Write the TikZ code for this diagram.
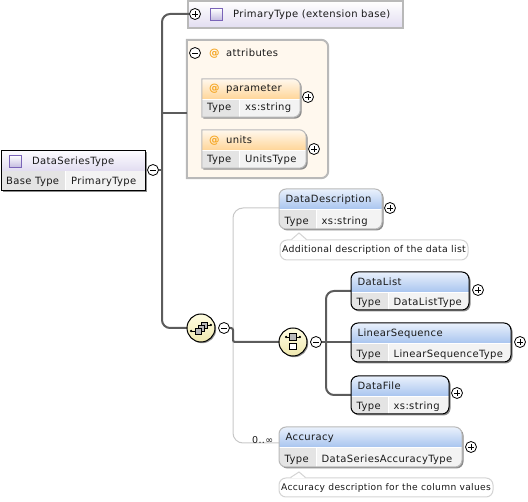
\documentclass[tikz,border=0pt]{standalone}
\usepackage{fontspec}
\setmainfont{DejaVu Sans}[LetterSpace=3.5]
\usepackage{xcolor}
\usetikzlibrary{arrows.meta,positioning,calc,shadows}
\definecolor{ink}{HTML}{000000}
\definecolor{txtgray}{HTML}{1A1A1A}
\definecolor{trunkgray}{HTML}{5C5C5C}
\definecolor{thingray}{HTML}{C8C8C8}
\definecolor{edgegray}{HTML}{B9B9B9}
\definecolor{shadowgray}{HTML}{8C8C8C}
\definecolor{celldark}{HTML}{E4E4E4}
\definecolor{celllight}{HTML}{F3F3F3}
\definecolor{blutop}{HTML}{EAF1FC}
\definecolor{blubot}{HTML}{A9C5EF}
\definecolor{orgtop}{HTML}{FFF8EE}
\definecolor{orgbot}{HTML}{FFD699}
\definecolor{lavtop}{HTML}{FDFCFF}
\definecolor{lavbot}{HTML}{E2DDF1}
\definecolor{attrfill}{HTML}{FFF8EE}
\definecolor{attrsign}{HTML}{F5A623}
\definecolor{squareedge}{HTML}{7A64B8}
\definecolor{squarefill}{HTML}{C2BADF}
\definecolor{icontop}{HTML}{FFFDE2}
\definecolor{iconyellow}{HTML}{EFE8AE}
\definecolor{notegray}{HTML}{D4D4D4}
\tikzset{
  cells/.style 2 args={path picture={
    \begin{scope}[sharp corners]
    \shade[top color=#1top,bottom color=#1bot]
      (path picture bounding box.north west) rectangle ([yshift=-20pt]path picture bounding box.north east);
    \fill[celldark] ([yshift=-21pt]path picture bounding box.north west) rectangle ([xshift=#2pt]path picture bounding box.south west);
    \fill[celllight] ([xshift=#2pt+1pt,yshift=-21pt]path picture bounding box.north west) rectangle (path picture bounding box.south east);
    \end{scope}
  }},
  boxshadow/.style={drop shadow={shadow xshift=1.5pt,shadow yshift=-1.5pt,fill=shadowgray,opacity=1}},
  reqelem/.style={draw=ink,fill=white,line width=1pt,rounded corners=7pt,inner sep=0pt,boxshadow},
  optelem/.style={draw=edgegray,fill=white,line width=1pt,rounded corners=7pt,inner sep=0pt,boxshadow},
  rootelem/.style={draw=ink,fill=white,line width=1pt,inner sep=0pt,boxshadow},
  attrelem/.style={draw=edgegray,fill=white,line width=1pt,boxshadow},
  basebox/.style={draw=edgegray,line width=2pt,top color=white,bottom color=lavbot,inner sep=0pt},
  attrgroup/.style={draw=edgegray,fill=attrfill,line width=2pt},
  lbl/.style={anchor=base west,inner sep=0pt,font=\fontsize{10}{11}\selectfont,text=txtgray},
  atsign/.style={anchor=base west,inner sep=0pt,font=\fontsize{10.5}{11}\bfseries\selectfont,text=attrsign},
  square/.style={draw=squareedge,line width=1pt,top color=white,bottom color=squarefill,
    minimum size=12pt,inner sep=0pt},
  btn/.style={circle,draw=ink,fill=white,line width=0.8pt,minimum size=11pt,inner sep=0pt},
  plusbtn/.style={btn,path picture={
    \draw[line width=0.7pt] ([xshift=-3pt]path picture bounding box.center) -- ([xshift=3pt]path picture bounding box.center);
    \draw[line width=0.7pt] ([yshift=-3pt]path picture bounding box.center) -- ([yshift=3pt]path picture bounding box.center);
  }},
  minusbtn/.style={btn,path picture={
    \draw[line width=0.7pt] ([xshift=-3pt]path picture bounding box.center) -- ([xshift=3pt]path picture bounding box.center);
  }},
  compicon/.style={circle,draw=ink,line width=1pt,minimum size=28pt,inner sep=0pt,
    top color=icontop,bottom color=iconyellow,
    drop shadow={shadow xshift=1.2pt,shadow yshift=-1.2pt,fill=shadowgray,opacity=1}},
  minisquare/.style={draw=ink,line width=0.8pt,minimum size=6.5pt,inner sep=0pt},
  stub/.style={-{Circle[length=2.2pt]},line width=0.8pt},
  trunk/.style={draw=trunkgray,line width=2pt},
  thinline/.style={draw=thingray,line width=1pt},
  note/.style={draw=notegray,fill=white,line width=1pt,rounded corners=7pt,inner sep=0pt,
    font=\fontsize{9.35}{11}\selectfont,text=txtgray}
}
\newcommand{\rightcorners}[1]{(#1.north west) [rounded corners=7pt] -- (#1.north east) -- (#1.south east) [sharp corners] -- (#1.south west) -- cycle}
\newcommand{\elemtexts}[4]{%
  \node[lbl] (#1name) at ([shift={(7,14)}]#1.north west) {#2};
  \node[lbl] (#1key) at ([shift={(6,-5)}]#1.south west) {#3};
  \node[lbl] (#1val) at ([shift={(43,-5)}]#1.south west) {#4};
}
\begin{document}
\begin{tikzpicture}[x=1pt,y=-1pt]
  \useasboundingbox (0,0) rectangle (528,502);
  \coordinate (rootjoin) at (162,170);
  \coordinate (seqjoin) at (233,328);
  \coordinate (choicejoin) at (326,342);

  % base type and attributes
  \node[basebox,minimum width=215pt,minimum height=27pt] (primary) at (295,14.5) {};
  \node[plusbtn] (primarybtn) at (195,14) {};
  \node[square] (primaryicon) at (216.5,14.5) {};
  \node[lbl] (primaryname) at (233,18) {PrimaryType (extension base)};

  \node[inner sep=0pt,minimum width=141pt,minimum height=138pt] (attrs) at (257.5,109) {};
  \draw[attrgroup] \rightcorners{attrs};
  \node[minusbtn] (attrsbtn) at (195,53) {};
  \node[atsign] (attrsat) at (209,56.5) {@};
  \node[lbl] (attrsname) at (226,57) {attributes};
  \shade[left color=attrfill,middle color=edgegray,right color=attrfill] (192,66) rectangle (295,68);
  \coordinate (attrsjoin) at (187,113);

  \node[inner sep=0pt,minimum width=98pt,minimum height=38pt] (param) at (251,98) {};
  \draw[attrelem,cells={org}{37}] \rightcorners{param};
  \node[atsign] (paramat) at (209,92) {@};
  \node[lbl] (paramname) at (226,92) {parameter};
  \node[lbl] (paramkey) at (207,111) {Type};
  \node[lbl] (paramval) at (245,111) {xs:string};
  \node[plusbtn] (parambtn) at (308,97) {};

  \node[inner sep=0pt,minimum width=104pt,minimum height=38pt] (units) at (254,149) {};
  \draw[attrelem,cells={org}{37}] \rightcorners{units};
  \node[atsign] (unitsat) at (209,144) {@};
  \node[lbl] (unitsname) at (226,144) {units};
  \node[lbl] (unitskey) at (207,163) {Type};
  \node[lbl] (unitsval) at (245,163) {UnitsType};
  \node[plusbtn] (unitsbtn) at (314,149) {};

  % connectors
  \draw[thinline,rounded corners=10pt] (seqjoin) |- (279,208) coordinate (descjoin);
  \draw[thinline,rounded corners=10pt] (seqjoin) |- (279,443) coordinate (accjoin);
  \draw[trunk,rounded corners=8pt] (primarybtn) -| (rootjoin) |- (187,328) coordinate (seqend);
  \draw[trunk] (rootjoin) -- (148,170);
  \draw[trunk] (attrsjoin) -- (attrsjoin -| rootjoin);
  \draw[trunk,rounded corners=2pt] (224,328) -- (seqjoin) |- (279,342);
  \draw[trunk] (310,342) -- (choicejoin);
  \draw[trunk,rounded corners=8pt] (351,291) -| (choicejoin) |- (351,395);
  \draw[trunk] (choicejoin) -- (351,342);

  % root element
  \node[rootelem,cells={lav}{64},minimum width=144pt,minimum height=40pt] (root) at (73,170.5) {};
  \node[square] (rooticon) at (15.5,161.5) {};
  \node[lbl] (rootname) at (32,165) {DataSeriesType};
  \node[lbl] (rootkey) at (6,185) {Base Type};
  \node[lbl] (rootval) at (71,185) {PrimaryType};
  \node[minusbtn] (rootbtn) at (153,170) {};

  % compositors
  \node[compicon] (seq) at (201,328) {};
  \draw[stub] (198,331) -- ++(-8,0);
  \draw[stub] (204,325) -- ++(8,0);
  \node[minisquare,fill=gray!55,minimum size=6pt] (seqa) at (204,325) {};
  \node[minisquare,fill=gray!55,minimum size=6pt] (seqb) at (201,328) {};
  \node[minisquare,fill=gray!55,minimum size=6pt] (seqc) at (198,331) {};
  \node[minusbtn] (seqbtn) at (224,328) {};

  \node[compicon] (choice) at (293,342) {};
  \draw[stub] (293,337) -- ++(-8,0);
  \draw[stub] (293,337) -- ++(8,0);
  \node[minisquare,fill=gray!55] (choicea) at (293,337) {};
  \node[minisquare,fill=white] (choiceb) at (293,346.5) {};
  \node[minusbtn] (choicebtn) at (316,342) {};

  % optional elements
  \node[optelem,cells={blu}{37},minimum width=103pt,minimum height=40pt] (desc) at (330.5,209) {};
  \elemtexts{desc}{DataDescription}{Type}{xs:string}
  \node[plusbtn] (descbtn) at (390,208) {};
  \node[note,minimum width=188pt,minimum height=20pt] (descnote) at (374,250) {Additional description of the data list};
  \fill[white] ([shift={(12,1)}]descnote.north west) -- (299,233) -- ([shift={(27,1)}]descnote.north west) -- cycle;
  \draw[notegray,line width=1pt] ([shift={(12,0)}]descnote.north west) -- (299,233) -- ([shift={(27,0)}]descnote.north west);

  \node[optelem,cells={blu}{37},minimum width=183pt,minimum height=40pt] (accuracy) at (370.5,447) {};
  \elemtexts{accuracy}{Accuracy}{Type}{DataSeriesAccuracyType}
  \node[plusbtn] (accuracybtn) at (471,447) {};
  \node[lbl,font=\fontsize{9.5}{11}\selectfont] (accuracyocc) at (252,444) {0..∞};
  \node[note,font=\fontsize{9.15}{11}\selectfont,minimum width=214pt,minimum height=19pt] (accuracynote) at (386,487.5) {Accuracy description for the column values};
  \fill[white] ([shift={(12,1)}]accuracynote.north west) -- (299,472) -- ([shift={(27,1)}]accuracynote.north west) -- cycle;
  \draw[notegray,line width=1pt] ([shift={(12,0)}]accuracynote.north west) -- (299,472) -- ([shift={(27,0)}]accuracynote.north west);

  % required elements of the choice
  \node[reqelem,cells={blu}{37},minimum width=118pt,minimum height=38pt] (datalist) at (410,291) {};
  \elemtexts{datalist}{DataList}{Type}{DataListType}
  \node[plusbtn] (datalistbtn) at (478,290) {};

  \node[reqelem,cells={blu}{37},minimum width=160pt,minimum height=39pt] (linseq) at (431,342.5) {};
  \elemtexts{linseq}{LinearSequence}{Type}{LinearSequenceType}
  \node[plusbtn] (linseqbtn) at (520,342) {};

  \node[reqelem,cells={blu}{37},minimum width=98pt,minimum height=38pt] (datafile) at (400,395) {};
  \elemtexts{datafile}{DataFile}{Type}{xs:string}
  \node[plusbtn] (datafilebtn) at (457,393) {};
\end{tikzpicture}
\end{document}
